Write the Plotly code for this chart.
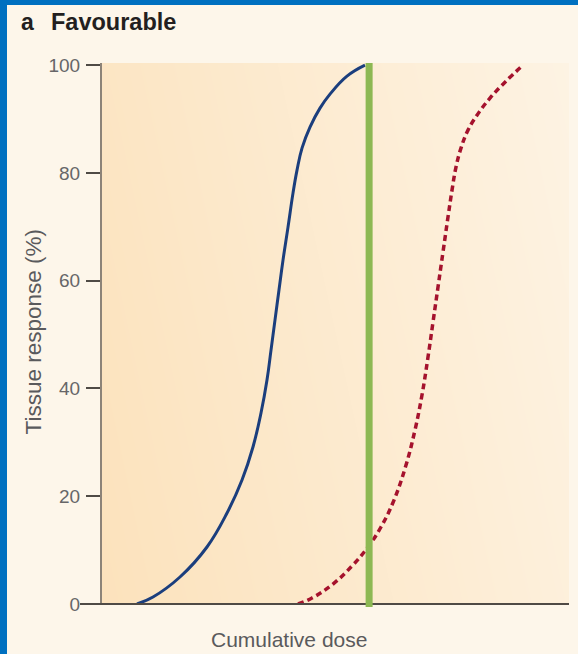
import plotly.graph_objects as go
import numpy as np

# ---------------- data ----------------
blue_dose = [0.749, 1.092, 1.670, 2.248, 2.677, 2.998, 3.233, 3.405, 3.533, 3.619, 3.704, 3.790,
             3.876, 3.983, 4.090, 4.176, 4.283, 4.454, 4.668, 4.882, 5.246, 5.632]
blue_resp = [0.0, 1.30, 5.01, 10.58, 16.88, 23.01, 29.13, 35.44, 41.56, 47.12, 52.69, 58.26,
             63.82, 69.94, 76.25, 80.52, 84.60, 88.50, 92.02, 94.62, 97.96, 100.0]

red_dose = [4.197, 4.497, 4.946, 5.353, 5.696, 5.974, 6.253, 6.510, 6.702, 6.852, 6.981, 7.088,
            7.195, 7.302, 7.409, 7.495, 7.580, 7.687, 7.837, 8.030, 8.308, 8.651, 9.015]
red_resp = [0.0, 1.11, 3.71, 7.05, 10.58, 14.29, 19.29, 25.79, 32.28, 38.78, 45.83, 52.32,
            58.81, 65.31, 71.80, 76.81, 81.08, 84.60, 87.94, 90.72, 93.88, 97.03, 100.0]

threshold_dose = 5.72
y_ticks = [0, 20, 40, 60, 80, 100]
x_range = [0, 10]
y_range = [0, 100.4]

# ---------------- layout geometry ----------------
W, H = 578, 654
L, R, T, B = 102, 9, 63, 50
PW, PH = W - L - R, H - T - B


def px(x):
    return (x - L) / PW


def py(y):
    return (H - B - y) / PH


FONT = "Liberation Sans, Arial, Helvetica, sans-serif"

fig = go.Figure()

# background gradient (decoration) drawn as a smooth heatmap
gx = np.linspace(x_range[0], x_range[1], 12)
gy = np.linspace(y_range[0], y_range[1], 8)
gz = [[0.8 * (i / 11) + 0.2 * (j / 7) for i in range(12)] for j in range(8)]
fig.add_trace(go.Heatmap(
    x=gx, y=gy, z=gz, zsmooth="best", showscale=False, hoverinfo="skip",
    colorscale=[[0, "#FCE2BC"], [1, "#FDF3E3"]], zmin=0, zmax=1,
))

fig.add_trace(go.Scatter(
    x=blue_dose, y=blue_resp, mode="lines",
    line=dict(color="#1B3E7D", width=3, shape="spline", smoothing=1.2),
    hoverinfo="skip", showlegend=False, cliponaxis=False,
))
fig.add_trace(go.Scatter(
    x=red_dose, y=red_resp, mode="lines",
    line=dict(color="#A5122D", width=3.5, dash="6px,4px", shape="spline", smoothing=1.2),
    hoverinfo="skip", showlegend=False, cliponaxis=False,
))

shapes = [
    # x-axis line (extends left to the tick area)
    dict(type="line", xref="paper", yref="paper", x0=px(80), x1=1, y0=0, y1=0,
         line=dict(color="#4F4A45", width=2), layer="above"),
    # green threshold line
    dict(type="line", xref="x", yref="paper", x0=threshold_dose, x1=threshold_dose,
         y0=py(607), y1=1, line=dict(color="#8DB853", width=7), layer="above"),
    # blue frame (top and left)
    dict(type="rect", xref="paper", yref="paper", x0=px(0), x1=px(W), y0=py(0), y1=py(5),
         fillcolor="#0070C0", line=dict(width=0), layer="above"),
    dict(type="rect", xref="paper", yref="paper", x0=px(0), x1=px(7), y0=py(0), y1=py(H),
         fillcolor="#0070C0", line=dict(width=0), layer="above"),
]

annotations = [
    dict(text="<b>a</b>", xref="paper", yref="paper", x=px(19), y=py(22),
         xanchor="left", yanchor="middle", showarrow=False,
         font=dict(family=FONT, size=23, color="#231F20")),
    dict(text="<b>Favourable</b>", xref="paper", yref="paper", x=px(49), y=py(22),
         xanchor="left", yanchor="middle", showarrow=False,
         font=dict(family=FONT, size=23.5, color="#231F20")),
    dict(text="Tissue response (%)", xref="paper", yref="paper", x=px(32.5), y=py(332),
         xanchor="center", yanchor="middle", textangle=-90, showarrow=False,
         font=dict(family=FONT, size=22.5, color="#5A5A5C")),
    dict(text="Cumulative dose", xref="paper", yref="paper", x=px(288.5), y=py(639),
         xanchor="center", yanchor="middle", showarrow=False,
         font=dict(family=FONT, size=21, color="#5A5A5C")),
]

fig.update_layout(
    width=W, height=H, autosize=False,
    margin=dict(l=L, r=R, t=T, b=B, pad=0),
    paper_bgcolor="#FDF6EA",
    plot_bgcolor="#FCEBD2",
    showlegend=False,
    shapes=shapes,
    annotations=annotations,
    xaxis=dict(range=x_range, showgrid=False, zeroline=False, showline=False,
               showticklabels=False, ticks="", fixedrange=True),
    yaxis=dict(range=y_range, showgrid=False, zeroline=False, showline=True,
               linecolor="#8C8378", linewidth=2, tickvals=y_ticks,
               ticks="outside", ticklen=14, tickwidth=2, tickcolor="#4F4A45",
               ticklabelstandoff=2,
               tickfont=dict(family=FONT, size=19, color="#666668"), fixedrange=True),
)

fig.write_html(
    "out.html",
    config={"displayModeBar": False},
    post_script="document.body.style.margin='0';document.body.style.overflow='hidden';",
)
